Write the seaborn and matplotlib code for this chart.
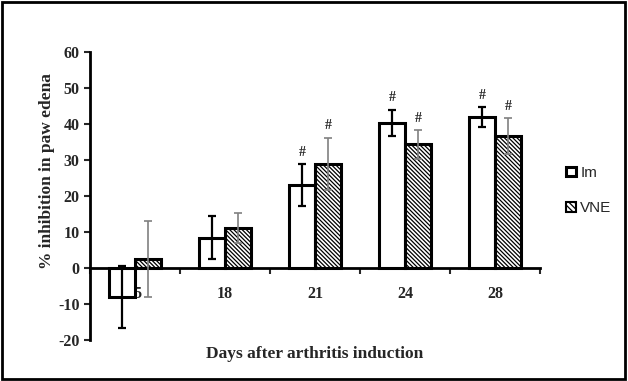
import numpy as np
import pandas as pd
import matplotlib
matplotlib.use("Agg")
import matplotlib.pyplot as plt
import seaborn as sns
from matplotlib.patches import Rectangle, Patch

# data
days = ["15", "18", "21", "24", "28"]
im_mean = [-8.1, 8.4, 23.0, 40.3, 41.9]
im_err = [8.5, 6.0, 5.8, 3.6, 2.7]
vne_mean = [2.4, 11.0, 28.8, 34.3, 36.6]
vne_err = [10.5, 4.2, 7.3, 4.0, 5.0]
im_sig = [False, False, True, True, True]
vne_sig = [False, False, True, True, True]


def main():
    sns.set_style("white")
    plt.rcParams["font.family"] = ["Liberation Serif", "DejaVu Serif"]
    plt.rcParams["hatch.linewidth"] = 0.9
    plt.rcParams["axes.unicode_minus"] = False

    df = pd.DataFrame({
        "day": days * 2,
        "value": im_mean + vne_mean,
        "group": ["Im"] * len(days) + ["VNE"] * len(days),
    })

    fig = plt.figure(figsize=(6.28, 3.81), dpi=100)
    ax = fig.add_axes([0.143, 0.108, 0.717, 0.756])

    sns.barplot(data=df, x="day", y="value", hue="group", order=days,
                palette=["white", "white"], edgecolor="black", linewidth=2.2,
                width=0.58, errorbar=None, legend=False, ax=ax)

    # hatch on VNE bars
    for bar in ax.containers[1]:
        bar.set_hatch("\\\\\\\\\\\\\\\\")

    # error bars and significance marks
    specs = [(ax.containers[0], im_mean, im_err, im_sig, "black", 1.6),
             (ax.containers[1], vne_mean, vne_err, vne_sig, "#808080", 1.2)]
    for cont, means, errs, sig, col, lw in specs:
        xs = [b.get_x() + b.get_width() / 2 for b in cont]
        ax.errorbar(xs, means, yerr=errs, fmt="none", ecolor=col,
                    elinewidth=lw, capsize=2.7, capthick=lw, zorder=5)
        for x, m, e, s in zip(xs, means, errs, sig):
            if s:
                ax.text(x, m + e + 1.5, "#", ha="center", va="bottom",
                        fontsize=10, fontweight="bold")

    ax.set_ylim(-20, 60)
    ax.set_xlim(-0.5, len(days) - 0.5)
    ax.set_yticks(np.arange(-20, 61, 10))
    ax.tick_params(axis="y", which="major", direction="out", length=4,
                   width=1.5, left=True, labelsize=11.5)
    for lab in ax.get_yticklabels():
        lab.set_fontweight("bold")

    ax.spines["bottom"].set_position(("data", 0))
    ax.spines["top"].set_visible(False)
    ax.spines["right"].set_visible(False)
    for sp in ("left", "bottom"):
        ax.spines[sp].set_linewidth(2)
        ax.spines[sp].set_color("black")

    ax.set_xticks(np.arange(-0.5, len(days), 1.0), minor=True)
    ax.tick_params(axis="x", which="minor", direction="out", length=4,
                   width=1.5, bottom=True)
    ax.tick_params(axis="x", which="major", length=0, pad=13, labelsize=11.5)
    for lab in ax.get_xticklabels():
        lab.set_fontweight("bold")

    ax.set_xlabel("Days after arthritis induction", fontsize=12.5,
                  fontweight="bold")
    ax.xaxis.set_label_coords(0.5, -0.02)
    ax.set_ylabel("% inhibition in paw edena", fontsize=12.5,
                  fontweight="bold")
    ax.yaxis.set_label_coords(-0.078, 0.587)

    handles = [Patch(facecolor="white", edgecolor="black", linewidth=2.2),
               Patch(facecolor="white", edgecolor="black", linewidth=1.5,
                     hatch="\\\\\\\\\\\\")]
    fig.legend(handles, ["Im", "VNE"], loc="center left",
               bbox_to_anchor=(0.88, 0.5), frameon=False,
               prop={"family": "Liberation Sans", "size": 11},
               handlelength=0.6, handleheight=0.6, handletextpad=0.3,
               labelspacing=1.4)

    fig.patches.append(Rectangle((0.003, 0.004), 0.992, 0.992,
                                 transform=fig.transFigure, fill=False,
                                 edgecolor="black", linewidth=2))

    fig.savefig("out.png", dpi=100)


if __name__ == "__main__":
    main()
